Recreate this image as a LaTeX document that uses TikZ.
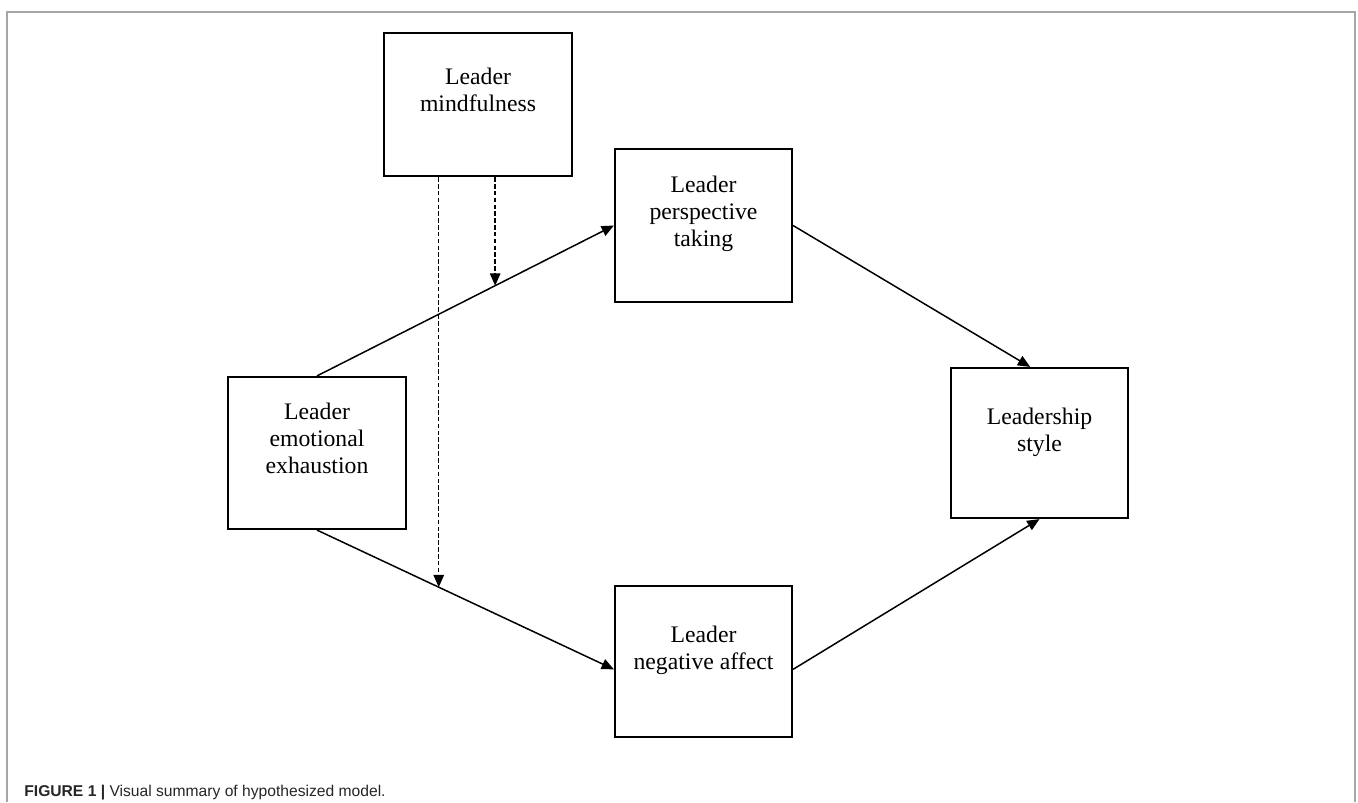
\documentclass[tikz,border=0pt]{standalone}
\usepackage{xcolor}
\usepackage{fontspec}
\setmainfont{Liberation Serif}
\newfontfamily\capfont{Liberation Sans}
\usepackage{tikz}
\usetikzlibrary{arrows.meta, positioning}

% text of a box, top aligned with a gap above it
\newcommand{\boxlabel}[4]{\parbox[c][#2][t]{#1}{\centering\vspace*{#3}#4}}

\begin{document}
\begin{tikzpicture}[x=0.02cm, y=-0.02cm, >={Triangle[length=7pt,width=6pt]}]

% =========================
% Styles
% =========================
\tikzset{
    construct/.style={draw, line width=1.25pt, inner sep=0pt, fill=white,
        font=\fontsize{13.5}{15.4}\selectfont},
    path/.style={->, line width=0.85pt},
    moderate/.style={->, line width=0.8pt, dash pattern=on 2.6pt off 1.3pt},
    frame/.style={draw=gray!70, line width=0.6pt}
}

\useasboundingbox (0,0) rectangle (1358,802);

% =========================
% Outer frame and caption
% =========================
\draw[frame] (7,802) -- (7,12) -- (1355,12) -- (1355,802);
\node[anchor=base west, inner sep=0pt, text=black!85,
      font=\capfont\fontsize{8.9}{10}\selectfont] (caption) at (24,796)
    {\textbf{FIGURE 1 |} Visual summary of hypothesized model.};

% =========================
% Constructs
% =========================
\node[construct] (mind) at (478,104.5)
    {\boxlabel{3.76cm}{2.86cm}{20pt}{Leader\\mindfulness}};
\node[construct] (persp) at (703.5,225.5)
    {\boxlabel{3.54cm}{3.06cm}{15.5pt}{Leader\\perspective\\taking}};
\node[construct] (exh) at (317,453)
    {\boxlabel{3.56cm}{3.04cm}{15pt}{Leader\\emotional\\exhaustion}};
\node[construct] (style) at (1039.5,443)
    {\boxlabel{3.54cm}{3.0cm}{23pt}{Leadership\\style}};
\node[construct] (neg) at (703.5,661.5)
    {\boxlabel{3.54cm}{3.02cm}{23pt}{Leader\\negative affect}};

% =========================
% Paths
% =========================
\draw[path] (exh.north) -- coordinate[pos=0.6] (mod1) (persp.west);
\draw[path] (exh.south) -- coordinate[pos=0.41] (mod2) (neg.185);
\draw[path] (persp.east) -- (style.97);
\draw[path] (neg.355) -- (style.south);

% =========================
% Moderation by mindfulness
% =========================
\draw[moderate] (mod1 |- mind.south) -- (mod1);
\draw[moderate] (mod2 |- mind.south) -- (mod2);

\end{tikzpicture}
\end{document}
